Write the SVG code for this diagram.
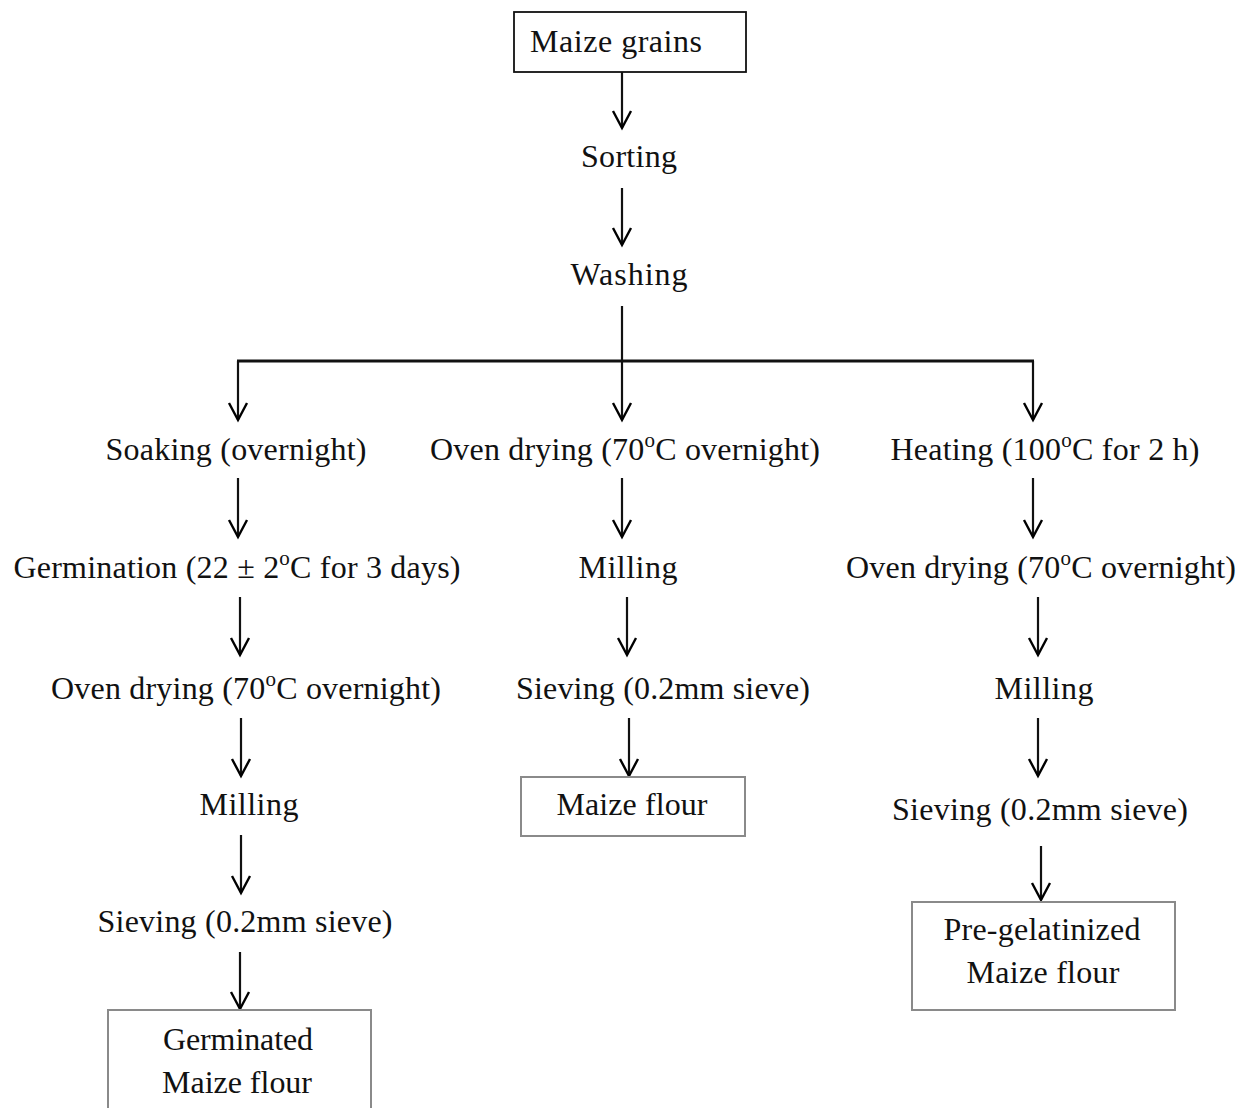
<svg xmlns="http://www.w3.org/2000/svg" width="1240" height="1108" viewBox="0 0 1240 1108">
<defs>
<marker id="arr" markerUnits="userSpaceOnUse" markerWidth="24" markerHeight="24" viewBox="-20 -12 24 24" refX="0" refY="0" orient="auto" overflow="visible">
<path d="M-17,-9 L0,0 L-17,9" fill="none" stroke="#000" stroke-width="2.4"/>
</marker>
</defs>
<style>
text{font-family:"Liberation Serif","Times New Roman",serif;font-size:32px;fill:#111;text-anchor:middle}
.sup{font-size:21px}
.box{fill:#fff;stroke:#8a8a8a;stroke-width:2}
.box0{fill:#fff;stroke:#111;stroke-width:1.8}
.c line,.c path{stroke:#111;stroke-width:2.2;fill:none}
</style>
<rect width="1240" height="1108" fill="#fff"/>

<g class="c" id="connectors">
<line x1="622" y1="72" x2="622" y2="128" marker-end="url(#arr)"/>
<line x1="622" y1="188" x2="622" y2="245" marker-end="url(#arr)"/>
<line x1="622" y1="306" x2="622" y2="361"/>
<path d="M237,361 H1034" style="stroke-width:3.2"/>
<line x1="238" y1="361" x2="238" y2="420" marker-end="url(#arr)"/>
<line x1="622" y1="361" x2="622" y2="420" marker-end="url(#arr)"/>
<line x1="1033" y1="361" x2="1033" y2="420" marker-end="url(#arr)"/>
<line x1="238" y1="478" x2="238" y2="537" marker-end="url(#arr)"/>
<line x1="622" y1="478" x2="622" y2="537" marker-end="url(#arr)"/>
<line x1="1033" y1="478" x2="1033" y2="537" marker-end="url(#arr)"/>
<line x1="240" y1="597" x2="240" y2="655" marker-end="url(#arr)"/>
<line x1="627" y1="597" x2="627" y2="655" marker-end="url(#arr)"/>
<line x1="1038" y1="597" x2="1038" y2="655" marker-end="url(#arr)"/>
<line x1="241" y1="718" x2="241" y2="776" marker-end="url(#arr)"/>
<line x1="629" y1="718" x2="629" y2="776" marker-end="url(#arr)"/>
<line x1="1038" y1="718" x2="1038" y2="776" marker-end="url(#arr)"/>
<line x1="241" y1="835" x2="241" y2="893" marker-end="url(#arr)"/>
<line x1="1041" y1="846" x2="1041" y2="900" marker-end="url(#arr)"/>
<line x1="240" y1="952" x2="240" y2="1009" marker-end="url(#arr)"/>
</g>

<g id="n-maize-grains"><rect class="box0" x="514" y="12" width="232" height="60"/><text x="616" y="52" textLength="172" lengthAdjust="spacing">Maize grains</text></g>
<g id="n-sorting"><text x="629" y="167" textLength="96" lengthAdjust="spacing">Sorting</text></g>
<g id="n-washing"><text x="629" y="285" textLength="117" lengthAdjust="spacing">Washing</text></g>

<g id="n-soaking"><text x="236" y="460" textLength="261" lengthAdjust="spacing">Soaking (overnight)</text></g>
<g id="n-oven-mid"><text x="625" y="460" textLength="390" lengthAdjust="spacing">Oven drying (70<tspan class="sup" dy="-13">o</tspan><tspan dy="13">C overnight)</tspan></text></g>
<g id="n-heating"><text x="1045" y="460" textLength="309" lengthAdjust="spacing">Heating (100<tspan class="sup" dy="-13">o</tspan><tspan dy="13">C for 2 h)</tspan></text></g>

<g id="n-germination"><text x="237" y="578" textLength="447" lengthAdjust="spacing">Germination (22 ± 2<tspan class="sup" dy="-13">o</tspan><tspan dy="13">C for 3 days)</tspan></text></g>
<g id="n-milling-mid"><text x="628" y="578" textLength="99" lengthAdjust="spacing">Milling</text></g>
<g id="n-oven-right"><text x="1041" y="578" textLength="390" lengthAdjust="spacing">Oven drying (70<tspan class="sup" dy="-13">o</tspan><tspan dy="13">C overnight)</tspan></text></g>

<g id="n-oven-left"><text x="246" y="699" textLength="390" lengthAdjust="spacing">Oven drying (70<tspan class="sup" dy="-13">o</tspan><tspan dy="13">C overnight)</tspan></text></g>
<g id="n-sieving-mid"><text x="663" y="699" textLength="294" lengthAdjust="spacing">Sieving (0.2mm sieve)</text></g>
<g id="n-milling-right"><text x="1044" y="699" textLength="99" lengthAdjust="spacing">Milling</text></g>

<g id="n-milling-left"><text x="249" y="815" textLength="99" lengthAdjust="spacing">Milling</text></g>
<g id="n-maize-flour"><rect class="box" x="521" y="777" width="224" height="59"/><text x="632" y="815" textLength="151" lengthAdjust="spacing">Maize flour</text></g>
<g id="n-sieving-right"><text x="1040" y="820" textLength="296" lengthAdjust="spacing">Sieving (0.2mm sieve)</text></g>

<g id="n-sieving-left"><text x="245" y="932" textLength="295" lengthAdjust="spacing">Sieving (0.2mm sieve)</text></g>
<g id="n-pregel"><rect class="box" x="912" y="902" width="263" height="108"/><text x="1042" y="940" textLength="197" lengthAdjust="spacing">Pre-gelatinized</text><text x="1043" y="983" textLength="153" lengthAdjust="spacing">Maize flour</text></g>
<g id="n-germinated"><rect class="box" x="108" y="1010" width="263" height="110"/><text x="238" y="1050" textLength="150" lengthAdjust="spacing">Germinated</text><text x="237" y="1093" textLength="150" lengthAdjust="spacing">Maize flour</text></g>
</svg>
